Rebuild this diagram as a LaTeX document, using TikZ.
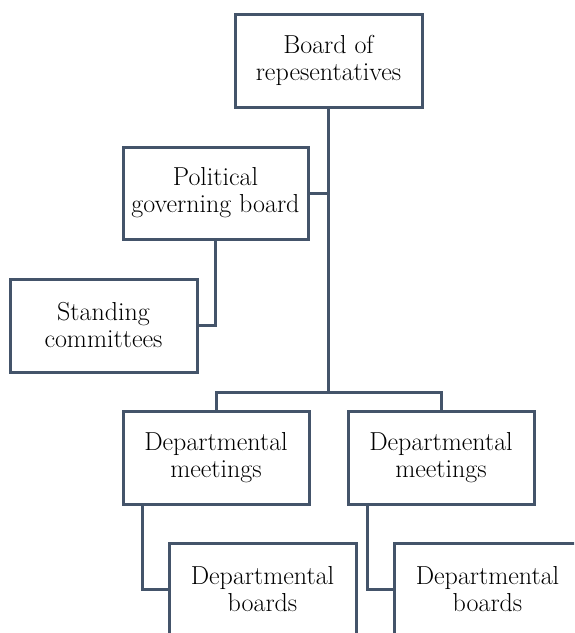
\documentclass[tikz,border=0pt]{standalone}
\definecolor{edge}{HTML}{44546A}
\begin{document}
\begin{tikzpicture}[x=1pt,y=-1pt,
  orgbox/.style={draw=edge, line width=3pt, fill=white, inner sep=0pt, outer sep=0pt,
    minimum width=187pt, minimum height=93pt, align=center,
    font=\fontsize{26}{27}\selectfont},
  link/.style={draw=edge, line width=3pt}]
\useasboundingbox (0,0) rectangle (574,633);
\clip (0,0) rectangle (574,633);
\fill[white] (0,0) rectangle (574,633);
\node[orgbox] (top) at (328.5,60.5) {Board of\\repesentatives};
\node[orgbox, minimum width=185pt, minimum height=92pt] (pol) at (215.5,193) {Political\\governing board};
\node[orgbox] (std) at (103.5,325.5) {Standing\\committees};
\node[orgbox, minimum width=186pt] (dma) at (216,457.5) {Departmental\\meetings};
\node[orgbox, minimum width=186pt] (dmb) at (441,457.5) {Departmental\\meetings};
\node[orgbox] (dba) at (262.5,589.5) {Departmental\\boards};
\node[orgbox] (dbb) at (487.5,589.5) {Departmental\\boards};
\coordinate (bus) at (328.5,392);
\draw[link] (top.south) -- (bus);
\draw[link] (pol.east) -- (pol.east -| top.south);
\draw[link] (dma.north) |- (bus) -| (dmb.north);
\draw[link] (pol.south) |- (std.east);
\draw[link] ([xshift=19pt]dma.south west) |- (dba.west);
\draw[link] ([xshift=19pt]dmb.south west) |- (dbb.west);
\end{tikzpicture}
\end{document}
